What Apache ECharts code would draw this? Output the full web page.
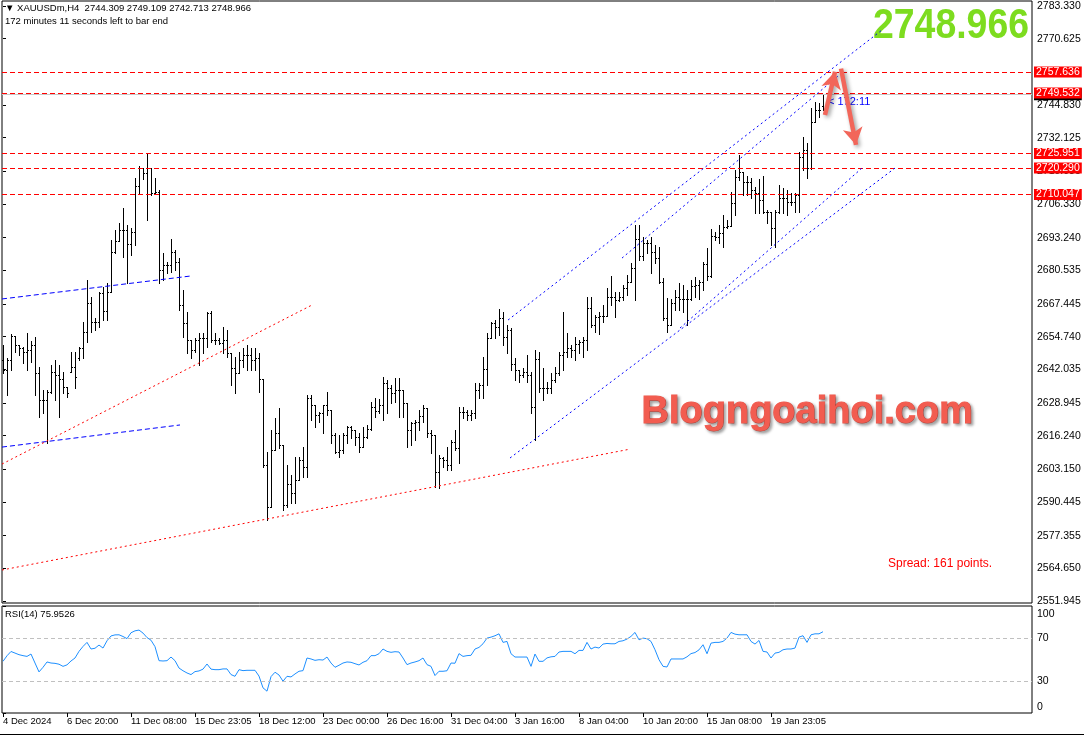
<!DOCTYPE html>
<html><head><meta charset="utf-8">
<script src="https://cdn.jsdelivr.net/npm/echarts@6/dist/echarts.min.js"></script>
<style>html,body{margin:0;padding:0;background:#fff}#c{width:1084px;height:737px}</style>
</head><body><div id="c"></div>
<script>
const symbolName = 'XAUUSDm,H4';
const timeLeft = '172 minutes 11 seconds left to bar end';
const countdown = '< 172:11';
const spreadPoints = 161;
const watermark = 'Blogngoaihoi.com';

const opens = [
2645.7,2641.8,2645.7,2655.0,2651.5,2650.3,2648.8,2649.5,2651.5,2640.6,
2630.1,2630.1,2633.2,2641.0,2639.8,2638.3,2635.2,2641.0,2642.9,2646.4,
2650.3,2656.5,2667.8,2660.4,2660.4,2671.7,2664.7,2672.1,2687.7,2691.9,
2696.2,2696.2,2690.8,2695.4,2713.3,2720.3,2718.4,2720.3,2710.6,2711.0,
2680.7,2682.6,2682.6,2687.7,2683.8,2667.0,2660.0,2653.4,2649.5,2653.4,
2654.2,2654.2,2663.9,2653.4,2653.4,2652.3,2653.4,2648.4,2642.5,2640.6,
2645.7,2647.6,2647.6,2645.7,2646.4,2638.3,2604.8,2588.5,2610.7,2617.3,
2612.6,2589.3,2597.4,2593.9,2599.0,2606.8,2604.0,2630.9,2628.2,2624.3,
2625.0,2628.2,2626.2,2616.5,2609.9,2610.7,2616.5,2619.6,2618.4,2615.7,
2611.8,2615.7,2618.8,2627.4,2625.8,2628.2,2636.7,2634.8,2632.8,2634.0,
2634.0,2628.9,2618.4,2621.2,2621.5,2623.9,2627.0,2617.3,2616.5,2602.1,
2607.5,2606.8,2604.8,2613.8,2611.4,2625.4,2625.4,2624.3,2625.0,2634.0,
2635.9,2642.2,2654.2,2660.0,2658.5,2662.0,2654.6,2657.3,2644.1,2641.8,
2639.8,2641.0,2639.8,2627.4,2646.0,2634.8,2634.8,2634.8,2637.9,2640.6,
2647.6,2648.8,2650.3,2649.5,2651.9,2652.7,2653.4,2665.9,2659.3,2662.4,
2662.8,2662.8,2670.2,2670.2,2669.0,2670.2,2673.7,2676.0,2681.4,2692.7,
2686.1,2691.2,2691.2,2687.7,2685.3,2676.0,2662.0,2659.3,2667.8,2670.2,
2669.4,2669.4,2669.4,2674.4,2674.8,2676.0,2682.9,2678.3,2693.9,2693.5,
2695.0,2697.4,2697.8,2706.7,2716.8,2718.8,2714.9,2714.9,2711.8,2710.6,
2707.9,2703.2,2703.2,2697.0,2703.2,2708.7,2708.7,2707.1,2707.1,2709.8,
2724.6,2727.3,2720.3,2738.2,2742.9,2744.309];

const highs = [
2651.5,2646.4,2655.8,2655.0,2651.5,2650.7,2656.2,2653.0,2654.6,2642.9,
2634.0,2634.0,2643.7,2645.7,2643.7,2641.0,2635.2,2648.8,2648.8,2650.7,
2660.4,2676.8,2670.2,2662.0,2672.1,2674.1,2675.6,2692.3,2696.2,2698.9,
2704.8,2698.2,2697.0,2716.4,2721.1,2720.3,2726.3,2720.3,2716.4,2711.8,
2687.3,2683.8,2692.7,2688.4,2685.3,2672.9,2664.3,2653.4,2654.2,2656.2,
2656.2,2664.3,2664.7,2656.2,2654.2,2658.5,2657.3,2648.4,2646.8,2648.8,
2650.3,2651.5,2650.3,2650.3,2648.4,2638.3,2609.9,2618.4,2623.1,2627.0,
2612.6,2604.8,2600.9,2607.9,2607.9,2611.8,2632.0,2632.0,2628.2,2625.4,
2628.2,2633.2,2626.2,2617.3,2616.5,2617.3,2620.0,2620.0,2618.4,2617.3,
2619.6,2620.4,2629.3,2630.9,2630.5,2639.0,2637.9,2635.9,2638.7,2638.7,
2634.0,2628.9,2621.5,2622.3,2626.2,2628.2,2627.0,2618.4,2616.5,2608.7,
2607.9,2611.8,2614.5,2618.4,2627.4,2627.4,2626.2,2626.2,2636.7,2636.7,
2646.8,2656.2,2660.4,2661.2,2665.5,2664.3,2659.3,2658.1,2646.4,2641.8,
2642.5,2647.6,2641.0,2649.5,2648.8,2642.5,2637.1,2640.6,2642.9,2648.8,
2664.3,2656.2,2651.5,2654.6,2653.4,2654.6,2670.2,2670.2,2663.2,2664.3,
2667.0,2673.7,2678.3,2672.1,2672.1,2674.8,2678.7,2683.4,2698.2,2698.2,
2693.5,2692.3,2693.5,2690.4,2689.6,2677.5,2669.8,2669.4,2672.9,2675.6,
2674.8,2672.9,2676.8,2677.9,2676.8,2683.8,2689.2,2696.6,2695.4,2698.2,
2702.0,2700.1,2711.0,2719.5,2725.4,2718.8,2717.2,2716.4,2712.9,2716.0,
2717.2,2704.0,2703.2,2704.0,2713.7,2712.5,2711.8,2710.6,2710.6,2726.6,
2732.4,2730.0,2743.7,2746.0,2745.6,2749.109];

const lows = [
2640.6,2632.0,2641.8,2648.8,2647.6,2644.5,2641.8,2644.9,2632.0,2623.5,
2625.0,2613.4,2632.8,2630.1,2623.5,2632.8,2631.3,2641.0,2634.8,2645.7,
2646.4,2652.7,2656.5,2657.3,2658.5,2661.2,2661.2,2672.1,2687.3,2691.9,
2685.7,2675.6,2686.5,2690.4,2710.6,2716.0,2700.1,2709.8,2710.6,2675.6,
2676.8,2679.5,2679.9,2680.7,2665.1,2654.6,2648.4,2646.4,2648.8,2643.7,
2648.4,2650.7,2652.7,2651.9,2651.9,2648.4,2646.8,2635.9,2632.8,2640.6,
2642.9,2641.8,2641.8,2641.8,2633.2,2604.0,2583.4,2588.5,2610.7,2611.4,
2587.3,2588.5,2590.0,2590.0,2599.0,2600.2,2600.2,2622.3,2619.6,2621.5,
2617.3,2624.3,2613.4,2609.5,2607.9,2609.5,2613.4,2615.3,2612.6,2609.9,
2611.8,2615.3,2618.4,2623.5,2625.0,2622.3,2625.0,2628.9,2629.3,2623.5,
2623.5,2611.8,2612.6,2614.5,2618.4,2621.5,2615.7,2609.5,2596.3,2595.9,
2604.0,2602.9,2602.9,2610.7,2605.6,2623.1,2622.3,2622.3,2623.1,2630.9,
2630.9,2635.9,2654.2,2654.2,2655.4,2651.5,2648.4,2641.8,2637.9,2637.1,
2639.1,2637.1,2625.0,2614.5,2633.2,2630.1,2632.8,2632.8,2637.1,2639.8,
2641.8,2646.8,2646.8,2645.7,2648.4,2646.8,2649.5,2658.5,2656.5,2655.8,
2660.4,2662.8,2667.0,2662.4,2668.6,2669.0,2670.9,2676.0,2669.0,2684.5,
2684.5,2687.3,2679.5,2683.4,2675.6,2661.2,2656.5,2659.3,2665.1,2665.1,
2664.3,2659.3,2669.0,2670.2,2669.4,2672.9,2676.8,2677.9,2692.3,2691.2,
2689.6,2697.0,2697.8,2702.0,2715.7,2709.8,2709.8,2708.7,2702.8,2702.8,
2702.8,2698.9,2690.4,2689.6,2702.8,2702.8,2702.0,2705.9,2703.2,2703.2,
2719.6,2716.4,2719.9,2738.2,2740.2,2742.713];

const closes = [
2641.8,2645.7,2655.0,2651.5,2650.3,2648.8,2649.5,2651.5,2640.6,2630.1,
2630.1,2633.2,2641.0,2639.8,2638.3,2635.2,2632.8,2642.9,2639.1,2650.3,
2656.5,2667.8,2660.4,2660.4,2671.7,2664.7,2672.1,2687.7,2691.9,2696.2,
2696.2,2690.8,2695.4,2713.3,2720.3,2718.4,2720.3,2710.6,2711.0,2680.7,
2682.6,2682.6,2687.7,2683.8,2667.0,2660.0,2653.4,2649.5,2653.4,2654.2,
2654.2,2663.9,2653.4,2653.4,2652.3,2653.4,2648.4,2642.5,2640.6,2645.7,
2647.6,2647.6,2645.7,2646.4,2638.3,2604.8,2588.5,2610.7,2617.3,2612.6,
2589.3,2597.4,2593.9,2599.0,2606.8,2604.0,2630.9,2628.2,2624.3,2625.0,
2628.2,2626.2,2616.5,2609.9,2610.7,2616.5,2619.6,2618.4,2615.7,2611.8,
2615.7,2618.8,2627.4,2625.8,2628.2,2636.7,2634.8,2632.8,2634.0,2634.0,
2628.9,2618.4,2621.2,2621.5,2623.9,2627.0,2617.3,2616.5,2602.1,2607.5,
2606.8,2604.8,2613.8,2611.4,2625.4,2625.4,2624.3,2625.0,2634.0,2635.9,
2642.2,2654.2,2660.0,2658.5,2662.0,2654.6,2657.3,2644.1,2641.8,2639.8,
2641.0,2639.8,2627.4,2646.0,2634.8,2634.8,2634.8,2637.9,2640.6,2647.6,
2648.8,2650.3,2649.5,2651.9,2652.7,2653.4,2665.9,2659.3,2662.4,2662.8,
2662.8,2670.2,2670.2,2669.0,2670.2,2673.7,2676.0,2681.4,2692.7,2686.1,
2691.2,2691.2,2687.7,2685.3,2676.0,2662.0,2659.3,2667.8,2670.2,2669.4,
2669.4,2669.4,2674.4,2674.8,2676.0,2682.9,2678.3,2693.9,2693.5,2695.0,
2697.4,2697.8,2706.7,2716.8,2718.8,2714.9,2714.9,2711.8,2710.6,2707.9,
2703.2,2703.2,2697.0,2703.2,2708.7,2708.7,2707.1,2707.1,2709.8,2724.6,
2727.3,2720.3,2738.2,2742.9,2742.9,2748.966];

const rsi = [
48.3,53.5,57.5,56.0,54.5,53.6,52.9,55.1,46.7,38.4,
42.7,47.7,46.7,46.4,45.6,43.6,45.0,48.6,51.4,57.6,
62.2,66.0,59.8,60.5,63.5,60.7,67.5,72.0,73.0,73.1,
71.5,69.5,75.0,76.8,77.5,74.7,70.5,68.0,62.0,48.9,
48.6,48.9,52.3,48.9,42.0,39.5,37.4,35.9,38.7,39.3,
41.0,45.8,41.0,40.5,40.5,41.2,41.2,35.9,34.3,40.5,
39.6,39.9,39.9,39.9,34.5,23.5,20.4,34.0,38.1,35.5,
29.7,34.3,33.7,36.5,39.0,39.6,51.4,50.5,49.2,49.8,
49.5,52.3,46.7,42.7,44.6,46.7,47.7,47.4,46.1,44.9,
47.4,48.9,53.6,53.6,55.4,59.8,57.6,56.7,57.3,57.0,
51.4,45.2,46.7,47.7,48.9,51.4,45.2,43.6,35.0,39.0,
39.0,39.5,46.7,46.5,55.5,52.9,53.6,53.9,59.8,61.3,
64.7,70.0,70.9,72.2,74.0,66.0,66.9,55.4,52.3,52.3,
52.3,52.3,43.6,55.1,48.3,48.3,51.5,52.5,52.9,57.0,
57.6,57.6,57.6,55.4,58.5,58.5,66.0,59.8,61.6,60.7,
64.4,65.0,64.7,64.7,66.9,67.5,69.1,71.6,75.3,68.4,
70.0,69.4,66.9,59.1,49.8,43.6,43.0,50.5,50.5,50.5,
50.5,52.5,55.5,56.5,59.0,63.8,55.4,65.3,66.0,66.0,
66.9,70.0,75.3,73.7,73.1,73.1,73.1,66.9,64.4,67.8,
57.6,57.0,51.4,56.0,56.7,59.1,59.8,59.8,60.7,70.9,
72.2,66.0,73.1,74.0,74.0,75.9526];

const xTickIndex = [0,16,32,48,64,80,96,112,128,144,160,176,192];
const xTickLabels = ['4 Dec 2024','6 Dec 20:00','11 Dec 08:00','15 Dec 23:05','18 Dec 12:00','23 Dec 00:00','26 Dec 16:00','31 Dec 04:00','3 Jan 16:00','8 Jan 04:00','10 Jan 20:00','15 Jan 08:00','19 Jan 23:05'];
const priceTicks = [2783.330,2770.625,2757.535,2744.830,2732.125,2719.035,2706.330,2693.240,2680.535,2667.445,2654.740,2642.035,2628.945,2616.240,2603.150,2590.445,2577.355,2564.650,2551.945];
const rsiTicks = [0,30,70,100];
const rsiLevels = [70,30];
const levels = [2757.636,2749.532,2725.951,2720.290,2710.047];

// trendlines: [[barIndex, price],[barIndex, price]]
const blueDashLines = [[[-0.25,2669.4],[46.75,2678.3]],[[-0.25,2611.8],[44.25,2620.4]]];
const redDotLines = [[[-0.25,2605.2],[77.25,2667.05]],[[-0.25,2564.0],[156.75,2611.0]]];
const channelLines = [[[126.25,2661.2],[219.75,2774.0]],[[154.75,2685.3],[210,2757.7]],[[126.75,2607.55],[223,2720.3]],[[169.25,2658.1],[214.75,2720.3]]];
const arrowLines = [[[205.5,2740.9],[208,2757.8]],[[209.5,2759.0],[213.25,2729.3]]];

const last = closes.length - 1;
const bid = closes[last];
const FONT = '"Liberation Sans", Arial, sans-serif';

const barData = opens.map((o, i) => [i, o, highs[i], lows[i], closes[i]]);
const rsiData = rsi.map((v, i) => [i, v]);

function renderBar(params, api) {
  const i = api.value(0);
  const po = api.coord([i, api.value(1)]);
  const ph = api.coord([i, api.value(2)]);
  const pl = api.coord([i, api.value(3)]);
  const pc = api.coord([i, api.value(4)]);
  const px = Math.round(po[0]);
  const yo = Math.round(po[1]) + 0.5;
  const yc = Math.round(pc[1]) + 0.5;
  const yh = Math.round(ph[1]);
  const yl = Math.round(pl[1]) + 1;
  const st = {stroke: '#000', lineWidth: 1};
  return {type: 'group', children: [
    {type: 'line', shape: {x1: px + 0.5, y1: yh, x2: px + 0.5, y2: yl}, style: st},
    {type: 'line', shape: {x1: px - 1, y1: yo, x2: px, y2: yo}, style: st},
    {type: 'line', shape: {x1: px + 1, y1: yc, x2: px + 2, y2: yc}, style: st}
  ]};
}

function segs(list, style) {
  return list.map(s => [
    {coord: s[0], symbol: 'none', lineStyle: style, label: {show: false}},
    {coord: s[1], symbol: 'none'}
  ]);
}

const markData = [];
markData.push({yAxis: bid, lineStyle: {color: '#c8c8c8', type: 'solid', width: 1},
  label: {show: true, position: 'end', distance: 2, formatter: () => bid.toFixed(3), color: '#fff', backgroundColor: '#000', padding: [0, 2], fontSize: 10.5, lineHeight: 12, fontFamily: FONT}});
levels.forEach(v => markData.push({yAxis: v, lineStyle: {color: '#ff0000', type: [5, 3], width: 1},
  label: {show: true, position: 'end', distance: 2, formatter: () => v.toFixed(3), color: '#fff', backgroundColor: '#ff0000', padding: [0, 2], fontSize: 10.5, lineHeight: 11, fontFamily: FONT}}));
segs(blueDashLines, {color: '#0000ff', type: [5, 3], width: 1}).forEach(d => markData.push(d));
segs(redDotLines, {color: '#ff0000', type: [2, 3], width: 1}).forEach(d => markData.push(d));
segs(channelLines, {color: '#0000ff', type: [2, 3], width: 1}).forEach(d => markData.push(d));
arrowLines.forEach(s => markData.push([
  {coord: s[0], symbol: 'none', label: {show: false},
   lineStyle: {color: '#f2665a', type: 'solid', width: 4.5, shadowColor: 'rgba(0,0,0,0.4)', shadowBlur: 4, shadowOffsetX: 2, shadowOffsetY: 2}},
  {coord: s[1], symbol: 'arrow', symbolSize: [15, 17]}
]));

const chart = echarts.init(document.getElementById('c'), null, {renderer: 'canvas'});
chart.setOption({
  animation: false,
  backgroundColor: '#fff',
  grid: [
    {left: 2, right: 52, top: 1, height: 602, show: true, borderColor: '#000', borderWidth: 1, backgroundColor: '#fff'},
    {left: 2, right: 52, top: 606, height: 107, show: true, borderColor: '#000', borderWidth: 1, backgroundColor: '#fff'}
  ],
  xAxis: [
    {gridIndex: 0, type: 'value', min: -0.25, max: 257.25, show: false},
    {gridIndex: 1, type: 'value', min: -0.25, max: 257.25,
     axisLine: {show: false}, splitLine: {show: false},
     axisTick: {show: true, customValues: xTickIndex, length: 4, lineStyle: {color: '#000'}},
     axisLabel: {customValues: xTickIndex, formatter: v => xTickLabels[xTickIndex.indexOf(v)] || '',
       align: 'left', margin: 3, color: '#000', fontSize: 9.5, fontFamily: FONT, hideOverlap: false}}
  ],
  yAxis: [
    {gridIndex: 0, type: 'value', position: 'right', min: 2551.167, max: 2785.274,
     axisLine: {show: false}, splitLine: {show: false},
     axisTick: {show: true, customValues: priceTicks, length: 3, lineStyle: {color: '#000'}},
     axisLabel: {customValues: priceTicks, formatter: v => v.toFixed(3), margin: 5, color: '#000', fontSize: 10.5, fontFamily: FONT, hideOverlap: false}},
    {gridIndex: 1, type: 'value', position: 'right', min: 0, max: 100,
     axisLine: {show: false}, splitLine: {show: false},
     axisTick: {show: true, customValues: rsiTicks, length: 3, lineStyle: {color: '#000'}},
     axisLabel: {customValues: rsiTicks, margin: 5, color: '#000', fontSize: 10.5, fontFamily: FONT,
       formatter: v => v === 100 ? '{t|100}' : String(v), rich: {t: {padding: [3, 0, 0, 0], fontSize: 10.5, fontFamily: FONT, color: '#000'}},
       verticalAlignMinLabel: 'bottom', verticalAlignMaxLabel: 'top', hideOverlap: false}}
  ],
  series: [
    {type: 'custom', name: 'bars', xAxisIndex: 0, yAxisIndex: 0, data: barData, renderItem: renderBar,
     encode: {x: 0, y: [1, 2, 3, 4]}, clip: true, silent: true, z: 2,
     markLine: {silent: true, symbol: 'none', animation: false, data: markData}},
    {type: 'line', name: 'RSI', xAxisIndex: 1, yAxisIndex: 1, data: rsiData, showSymbol: false, silent: true,
     lineStyle: {color: '#1e90ff', width: 1}, itemStyle: {color: '#1e90ff'},
     markLine: {silent: true, symbol: 'none', label: {show: false},
       lineStyle: {color: '#c0c0c0', type: [4, 3], width: 1},
       data: rsiLevels.map(v => ({yAxis: v}))}}
  ],
  graphic: [
    {type: 'text', left: 5, top: 3, style: {text: '\u25BC ' + symbolName + '  ' + opens[last].toFixed(3) + ' ' + highs[last].toFixed(3) + ' ' + lows[last].toFixed(3) + ' ' + closes[last].toFixed(3), font: '9.5px ' + FONT, fill: '#000'}},
    {type: 'text', left: 5, top: 16, style: {text: timeLeft, font: '9.5px ' + FONT, fill: '#000'}},
    {type: 'text', left: 5, top: 609, style: {text: 'RSI(14) ' + rsi[last].toFixed(4), font: '9.5px ' + FONT, fill: '#000'}},
    {type: 'text', x: 873, y: 5, scaleX: 0.87, style: {text: bid.toFixed(3), font: 'bold 43px ' + FONT, fill: '#7ddc1f'}},
    {type: 'text', left: 641, top: 393, style: {text: watermark, font: 'bold 38px ' + FONT, fill: '#f25c50',
      stroke: '#f25c50', lineWidth: 1,
      textShadowColor: 'rgba(0,0,0,0.35)', textShadowBlur: 3, textShadowOffsetX: 2, textShadowOffsetY: 2}},
    {type: 'text', left: 888, top: 558, style: {text: 'Spread: ' + spreadPoints + ' points.', font: '12px ' + FONT, fill: '#ff0000'}},
    {type: 'text', left: 828, top: 96, style: {text: countdown, font: '11px ' + FONT, fill: '#0000ff'}},
    {type: 'rect', left: 0, top: 734, shape: {width: 1084, height: 1}, style: {fill: '#000'}}
  ]
});
</script></body></html>
